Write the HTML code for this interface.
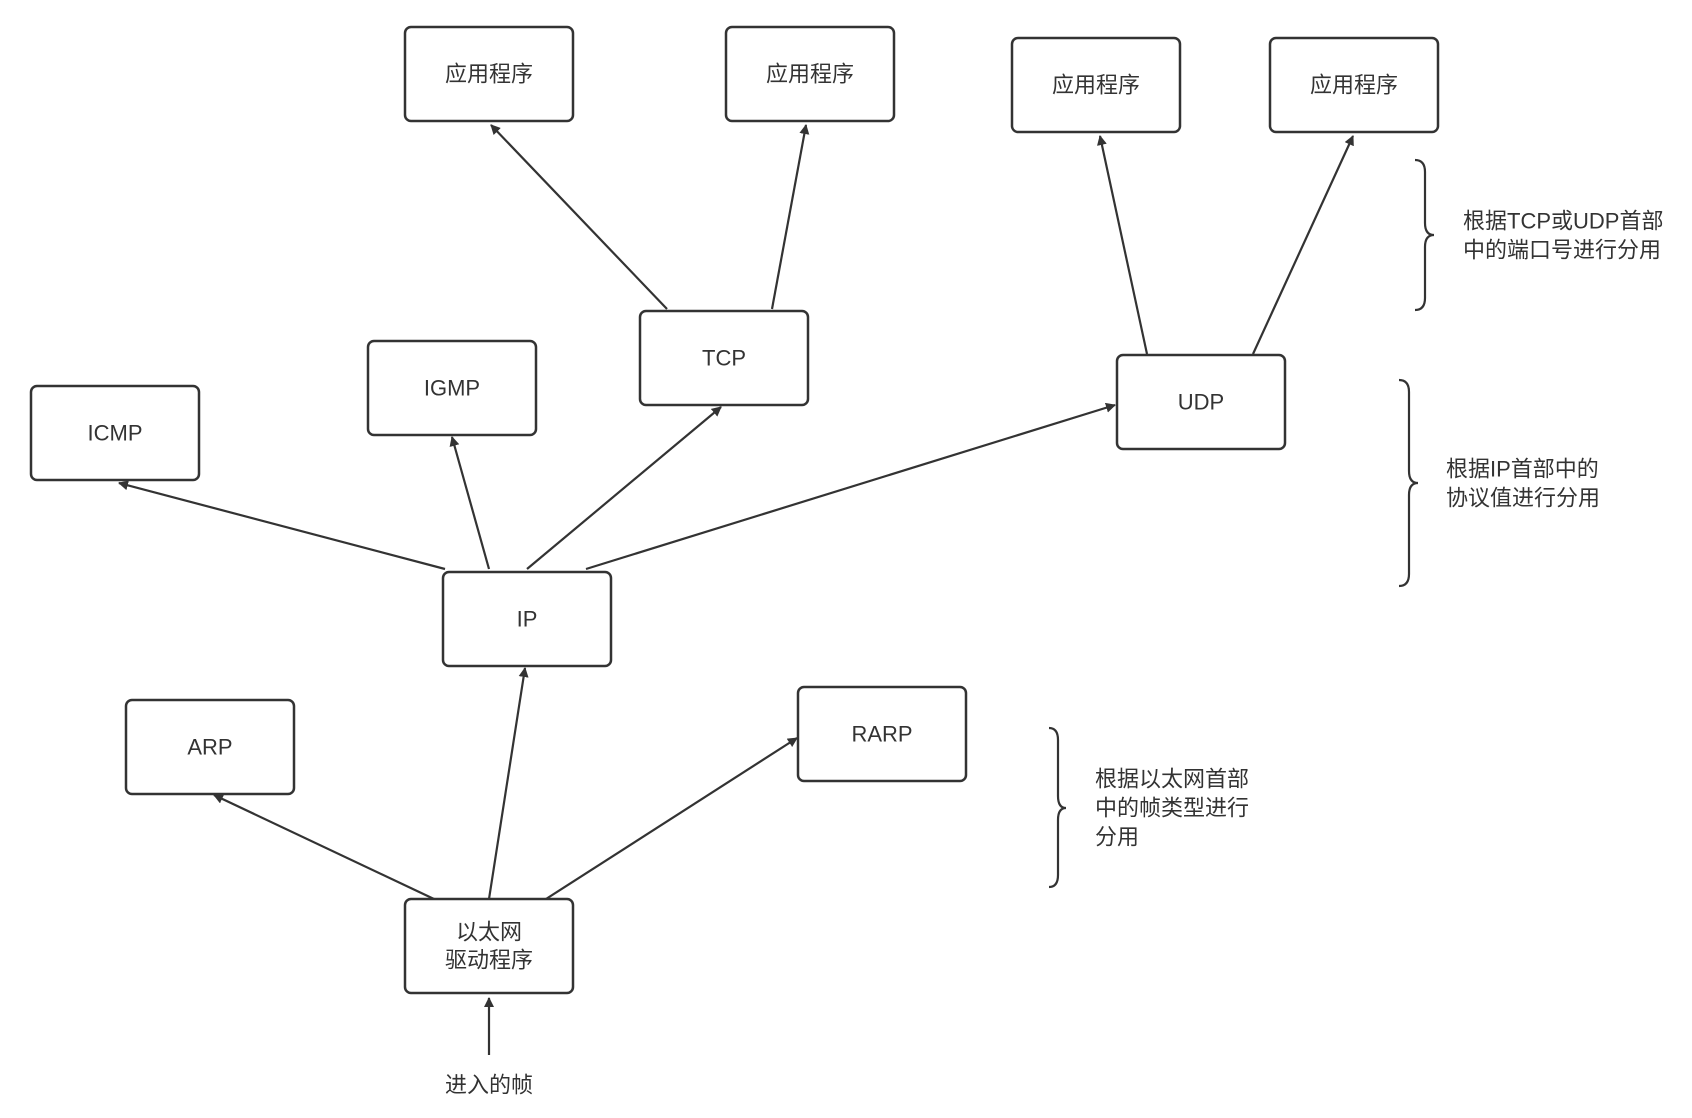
<!DOCTYPE html>
<html><head><meta charset="utf-8"><style>
body{margin:0;background:#fff}
text{font-family:"Liberation Sans","Noto Sans CJK SC",sans-serif;font-size:22px;fill:#333}
</style></head><body>
<svg width="1692" height="1113" xmlns="http://www.w3.org/2000/svg">
<defs><marker id="a" markerWidth="10" markerHeight="10" refX="9" refY="5" orient="auto" markerUnits="userSpaceOnUse" viewBox="0 0 10 10"><path d="M0,0 L10,5 L0,10 z" fill="#333"/></marker></defs>
<g fill="#fff" stroke="#333" stroke-width="2.5">
<rect x="405" y="27" width="168" height="94" rx="6"/>
<rect x="726" y="27" width="168" height="94" rx="6"/>
<rect x="1012" y="38" width="168" height="94" rx="6"/>
<rect x="1270" y="38" width="168" height="94" rx="6"/>
<rect x="640" y="311" width="168" height="94" rx="6"/>
<rect x="368" y="341" width="168" height="94" rx="6"/>
<rect x="31" y="386" width="168" height="94" rx="6"/>
<rect x="1117" y="355" width="168" height="94" rx="6"/>
<rect x="443" y="572" width="168" height="94" rx="6"/>
<rect x="126" y="700" width="168" height="94" rx="6"/>
<rect x="798" y="687" width="168" height="94" rx="6"/>
<rect x="405" y="899" width="168" height="94" rx="6"/>
</g>
<g stroke="#333" stroke-width="2.2" fill="none" marker-end="url(#a)">
<line x1="667" y1="309" x2="491" y2="125"/>
<line x1="772" y1="309" x2="806" y2="125"/>
<line x1="1147" y1="354" x2="1100" y2="136"/>
<line x1="1253" y1="354" x2="1353" y2="136"/>
<line x1="445" y1="569" x2="119" y2="483"/>
<line x1="489" y1="569" x2="452" y2="437"/>
<line x1="527" y1="569" x2="721" y2="407"/>
<line x1="586" y1="569" x2="1115" y2="405"/>
<line x1="434" y1="899" x2="214" y2="795"/>
<line x1="489" y1="899" x2="525" y2="668"/>
<line x1="546" y1="899" x2="797" y2="738"/>
<line x1="489" y1="1055" x2="489" y2="998"/>
</g>
<g stroke="#333" stroke-width="2.2" fill="none">
<path d="M1415,160 Q1425,160 1425,172 L1425,223 Q1425,235 1434,235 Q1425,235 1425,247 L1425,298 Q1425,310 1415,310"/>
<path d="M1399,380 Q1409,380 1409,392 L1409,471 Q1409,483 1418,483 Q1409,483 1409,495 L1409,574 Q1409,586 1399,586"/>
<path d="M1049,728 Q1058,728 1058,740 L1058,796 Q1058,808 1066,808 Q1058,808 1058,820 L1058,875 Q1058,887 1049,887"/>
</g>
<g text-anchor="middle" dominant-baseline="central">
<text x="489" y="74">应用程序</text>
<text x="810" y="74">应用程序</text>
<text x="1096" y="85">应用程序</text>
<text x="1354" y="85">应用程序</text>
<text x="724" y="358">TCP</text>
<text x="452" y="388">IGMP</text>
<text x="115" y="433">ICMP</text>
<text x="1201" y="402">UDP</text>
<text x="527" y="619">IP</text>
<text x="210" y="747">ARP</text>
<text x="882" y="734">RARP</text>
<text x="489" y="932">以太网</text>
<text x="489" y="960">驱动程序</text>
<text x="489" y="1085">进入的帧</text>
</g>
<g dominant-baseline="central">
<text x="1463" y="221">根据TCP或UDP首部</text>
<text x="1463" y="250">中的端口号进行分用</text>
<text x="1446" y="469">根据IP首部中的</text>
<text x="1446" y="498">协议值进行分用</text>
<text x="1095" y="779">根据以太网首部</text>
<text x="1095" y="808">中的帧类型进行</text>
<text x="1095" y="837">分用</text>
</g>
</svg>
</body></html>
